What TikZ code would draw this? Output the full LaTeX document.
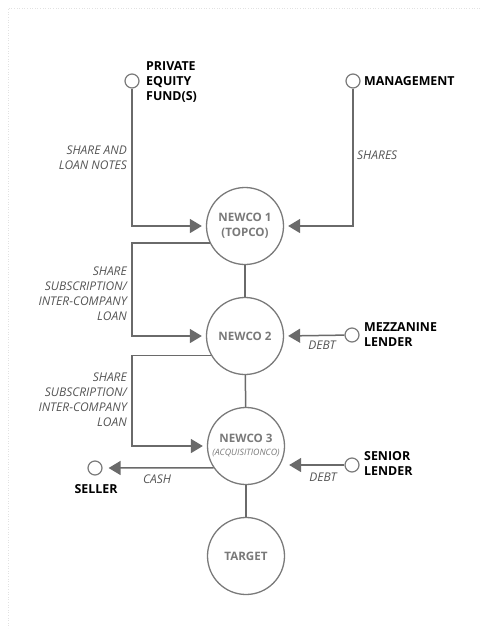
\documentclass[tikz,border=0pt]{standalone}
\usepackage{fontspec}
\setmainfont{Open Sans}
\usetikzlibrary{arrows.meta}
\definecolor{linegray}{HTML}{6A6A6A}
\definecolor{circgray}{HTML}{7A7A7A}
\definecolor{txtgray}{HTML}{7A7A7A}
\definecolor{lblgray}{HTML}{555555}
\definecolor{framegray}{HTML}{E2E2E2}
\tikzset{
  big/.style={circle, draw=circgray, line width=1.3pt, minimum size=77pt, inner sep=0pt, fill=white,
    font=\bfseries\fontsize{11.6}{15}\selectfont, text=txtgray, align=center},
  party/.style={circle, draw=circgray, line width=1.2pt, minimum size=14pt, inner sep=0pt, fill=white},
  pname/.style={font=\bfseries\fontsize{12.4}{15}\selectfont, align=left, text=black, inner sep=0pt},
  lbl/.style={font=\itshape\fontsize{12}{15}\selectfont, text=lblgray, inner sep=0pt},
  conn/.style={draw=linegray, line width=1.5pt},
  arr/.style={conn, -{Triangle[length=12pt,width=14pt,fill=linegray]}, shorten >=4pt},
}
\begin{document}
\begin{tikzpicture}[x=1pt,y=-1pt]
\useasboundingbox (0,0) rectangle (480,641);
\draw[framegray, dotted, line width=0.6pt] (480,8) -- (8,8) -- (8,628);

% main companies
\node[big] (n1) at (245,226) {NEWCO 1\\(TOPCO)};
\node[big] (n2) at (245,336) {NEWCO 2};
\node[big] (n3) at (246,446) {NEWCO 3\\[-2pt]{\mdseries\itshape\fontsize{8.8}{10}\selectfont (ACQUISITIONCO)}};
\node[big] (tg) at (246,556) {TARGET};

% parties
\node[party] (pe) at (132,81) {};
\node[party] (mg) at (353,81) {};
\node[party] (mz) at (352,335) {};
\node[party] (sr) at (352,465) {};
\node[party] (sl) at (95,468) {};

\node[pname, anchor=west] (pet) at (146,82) {PRIVATE\\EQUITY\\FUND(S)};
\node[pname, anchor=west] (mgt) at (364,81) {MANAGEMENT};
\node[pname, anchor=west] (mzt) at (364,335) {MEZZANINE\\LENDER};
\node[pname, anchor=west] (srt) at (364,463) {SENIOR\\LENDER};
\node[pname] (slt) at (96,489) {SELLER};

% vertical links
\draw[conn] (n1) -- (n2);
\draw[conn] (n2) -- (n3);
\draw[conn] (n3) -- (tg);

% arrows
\draw[arr] (pe) |- (n1.west);
\draw[arr] (mg) |- (n1.east);
\draw[arr] (n1.206) -- (n1.206 -| pe) |- (n2.west);
\draw[arr] (n2.210) -- (n2.210 -| pe) |- (n3.west);
\draw[arr] (mz) -- (n2.east);
\draw[arr] (sr) -- (sr -| n3.east);
\draw[arr, shorten >=6pt] (n3.214) -- (sl);

% labels
\node[lbl, anchor=east, align=right] (l1) at (127,158) {SHARE AND\\LOAN NOTES};
\node[lbl, anchor=west] (l2) at (357,155) {SHARES};
\node[lbl, anchor=east, align=right] (l3) at (127,294) {SHARE\\SUBSCRIPTION/\\INTER-COMPANY\\LOAN};
\node[lbl, anchor=east, align=right] (l4) at (127,400) {SHARE\\SUBSCRIPTION/\\INTER-COMPANY\\LOAN};
\node[lbl] (l5) at (322,345) {DEBT};
\node[lbl] (l6) at (323,477) {DEBT};
\node[lbl] (l7) at (157,479) {CASH};
\end{tikzpicture}
\end{document}
